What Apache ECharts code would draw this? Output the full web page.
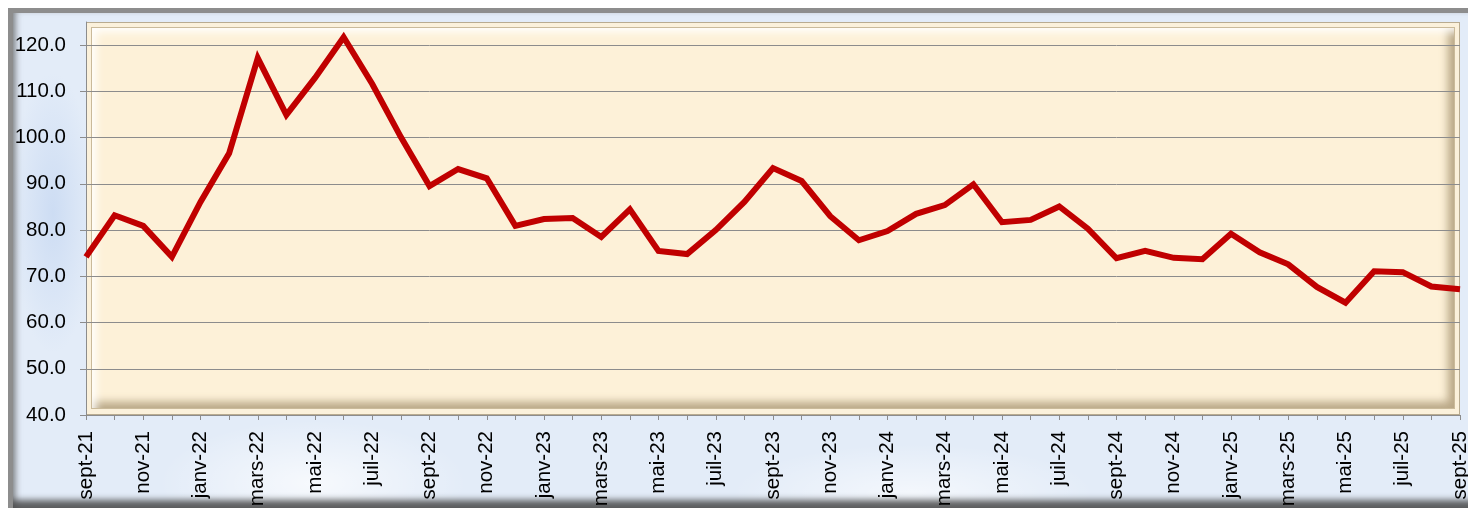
<!DOCTYPE html>
<html>
<head>
<meta charset="utf-8">
<script src="https://cdn.jsdelivr.net/npm/echarts@6/dist/echarts.min.js"></script>
<style>
  html, body { margin: 0; padding: 0; background: #fff; }
  #wrap { position: relative; width: 1468px; height: 508px; overflow: hidden; }
  #frame {
    position: absolute; left: 8px; top: 8px; width: 1480px; height: 500px;
    box-sizing: border-box;
    border-top: 5px solid #8d8d8d; border-left: 5px solid #8d8d8d;
    background:
      radial-gradient(ellipse 220px 90px at 300px 470px, rgba(255,255,255,.7), rgba(255,255,255,0) 70%),
      radial-gradient(ellipse 260px 70px at 900px 480px, rgba(255,255,255,.6), rgba(255,255,255,0) 70%),
      radial-gradient(ellipse 60px 200px at 40px 200px, rgba(190,210,240,.6), rgba(190,210,240,0) 70%),
      #e3ecf8;
    box-shadow: inset 0 -11px 6px -3px rgba(70,70,70,.85), inset 6px 0 6px -3px rgba(90,90,90,.6);
  }
  #panel {
    position: absolute; left: 86px; top: 22px; width: 1374px; height: 393px;
    box-sizing: border-box; background: #fbf1db;
    border: 1px solid #b8ab90;
  }
  #panel::before {
    content: ''; position: absolute; left: 5px; top: 5px; right: 5px; bottom: 6px;
    background: #fdf1d8;
    box-shadow: inset 8px 8px 8px -4px rgba(255,255,255,.95), inset -10px -10px 8px -4px rgba(140,118,80,.6),
                0 0 0 1px rgba(170,150,110,.6);
  }
  #chart { position: absolute; left: 0; top: 0; width: 1468px; height: 508px; }
</style>
</head>
<body>
<div id="wrap">
  <div id="frame"></div>
  <div id="panel"></div>
  <div id="chart"></div>
</div>
<script>
const months = [
  'sept-21', 'oct-21', 'nov-21', 'déc-21',
  'janv-22', 'févr-22', 'mars-22', 'avr-22', 'mai-22', 'juin-22', 'juil-22', 'août-22', 'sept-22', 'oct-22', 'nov-22', 'déc-22',
  'janv-23', 'févr-23', 'mars-23', 'avr-23', 'mai-23', 'juin-23', 'juil-23', 'août-23', 'sept-23', 'oct-23', 'nov-23', 'déc-23',
  'janv-24', 'févr-24', 'mars-24', 'avr-24', 'mai-24', 'juin-24', 'juil-24', 'août-24', 'sept-24', 'oct-24', 'nov-24', 'déc-24',
  'janv-25', 'févr-25', 'mars-25', 'avr-25', 'mai-25', 'juin-25', 'juil-25', 'août-25', 'sept-25'
]

const values = [
  74.2, 83.2, 80.9, 74.2,
  86.1, 96.6, 117.2, 104.9, 112.9, 121.7, 111.6, 100.1, 89.5, 93.2, 91.2, 80.9,
  82.4, 82.6, 78.5, 84.5, 75.5, 74.8, 80.0, 86.1, 93.4, 90.6, 83.0, 77.8,
  79.8, 83.5, 85.4, 89.9, 81.7, 82.2, 85.1, 80.3, 73.9, 75.5, 74.0, 73.7,
  79.2, 75.2, 72.6, 67.7, 64.3, 71.1, 70.9, 67.8, 67.2
]

const yMin = 40
const yMax = 125
const yStep = 10

const gridColor = '#8c8c8c'
const font = 'Liberation Sans, Arial, sans-serif'

const chart = echarts.init(document.getElementById('chart'))
chart.setOption({
  animation: false,
  backgroundColor: 'transparent',
  grid: { left: 86, right: 8, top: 22, bottom: 93, outerBoundsMode: 'none' },
  xAxis: {
    type: 'category',
    data: months,
    boundaryGap: false,
    axisLine: { lineStyle: { color: gridColor, width: 1 } },
    axisTick: { show: true, interval: 0, length: 5, lineStyle: { color: gridColor } },
    axisLabel: {
      interval: 1,
      rotate: 90,
      margin: 16,
      color: '#000',
      fontSize: 20.5,
      fontFamily: font
    },
    splitLine: { show: false }
  },
  yAxis: {
    type: 'value',
    min: yMin,
    max: yMax,
    interval: yStep,
    axisLine: { show: true, lineStyle: { color: gridColor, width: 1 } },
    axisTick: { show: true, length: 6, lineStyle: { color: gridColor } },
    axisLabel: {
      margin: 20,
      color: '#000',
      fontSize: 20.5,
      fontFamily: font,
      showMaxLabel: false,
      formatter: (v) => v.toFixed(1)
    },
    splitLine: { show: true, showMaxLine: false, lineStyle: { color: gridColor, width: 1 } }
  },
  series: [
    {
      type: 'line',
      data: values,
      symbol: 'none',
      lineStyle: { color: '#c00000', width: 6, join: 'miter' }
    }
  ]
})
</script>
</body>
</html>
